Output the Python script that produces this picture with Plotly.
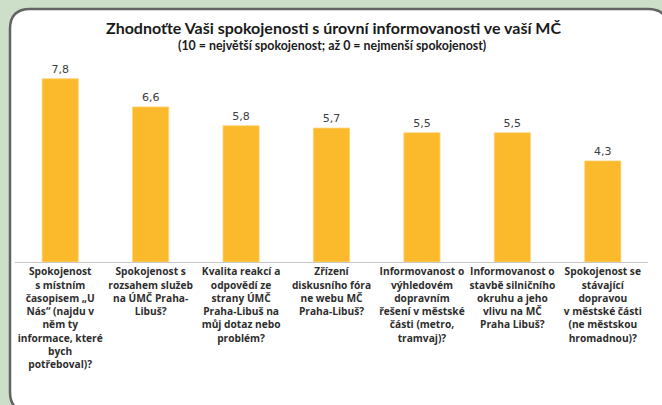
import plotly.graph_objects as go

BG = "#cddfc8"
PANEL = "#ffffff"
BORDER = "#646464"
BAR = "#fbba2b"
TEXT = "#2e2e2e"
LABEL = "#404040"

categories = [
    "Spokojenost<br>s místním<br>časopisem „U<br>Nás“ (najdu v<br>něm ty<br>informace, které<br>bych<br>potřeboval)?",
    "Spokojenost s<br>rozsahem služeb<br>na ÚMČ Praha-<br>Libuš?",
    "Kvalita reakcí a<br>odpovědí ze<br>strany ÚMČ<br>Praha-Libuš na<br>můj dotaz nebo<br>problém?",
    "Zřízení<br>diskusního fóra<br>ne webu MČ<br>Praha-Libuš?",
    "Informovanost o<br>výhledovém<br>dopravním<br>řešení v městské<br>části (metro,<br>tramvaj)?",
    "Informovanost o<br>stavbě silničního<br>okruhu a jeho<br>vlivu na MČ<br>Praha Libuš?",
    "Spokojenost se<br>stávající<br>dopravou<br>v městské části<br>(ne městskou<br>hromadnou)?",
]
values = [7.8, 6.6, 5.8, 5.7, 5.5, 5.5, 4.3]

title = "Zhodnoťte Vaši spokojenosti s úrovní informovanosti ve vaší MČ"
subtitle = "(10 = největší spokojenost; až 0 = nejmenší spokojenost)"

W, H = 662, 405
L, R, T, B = 15, 14, 27, 143
PW, PH = W - L - R, H - T - B


def px(x):
    return (x - L) / PW


def py(y):
    return (H - B - y) / PH


def rounded_panel(x0, y0, x1, y1, r):
    pts = [
        f"M {px(x0 + r)},{py(y0)}",
        f"L {px(x1 - r)},{py(y0)}",
        f"Q {px(x1)},{py(y0)} {px(x1)},{py(y0 + r)}",
        f"L {px(x1)},{py(y1 - r)}",
        f"Q {px(x1)},{py(y1)} {px(x1 - r)},{py(y1)}",
        f"L {px(x0 + r)},{py(y1)}",
        f"Q {px(x0)},{py(y1)} {px(x0)},{py(y1 - r)}",
        f"L {px(x0)},{py(y0 + r)}",
        f"Q {px(x0)},{py(y0)} {px(x0 + r)},{py(y0)}",
        "Z",
    ]
    return " ".join(pts)


fig = go.Figure()
fig.add_trace(go.Bar(
    x=list(range(len(values))), y=values,
    marker=dict(color=BAR, line=dict(color="#fdd37a", width=0.8)),
    texttemplate="%{y:.1f}", textposition="outside",
    textfont=dict(family="DejaVu Sans", size=11, color=LABEL),
    cliponaxis=False,
))

fig.add_shape(type="path", xref="paper", yref="paper", layer="below",
              path=rounded_panel(10, 9, 668, 412, 20),
              fillcolor=PANEL, line=dict(color=BORDER, width=2.5))

fig.add_annotation(text=f"<b>{title}</b>", xref="paper", yref="paper",
                   x=px(333), y=py(27), showarrow=False, yanchor="middle",
                   font=dict(family="Lato", size=16, color="#1a1a1a"))
fig.add_annotation(text=f"<b>{subtitle}</b>", xref="paper", yref="paper",
                   x=px(332), y=py(45), showarrow=False, yanchor="middle",
                   font=dict(family="Lato", size=12.4, color="#1a1a1a"))

fig.update_layout(
    width=W, height=H,
    paper_bgcolor=BG, plot_bgcolor="rgba(0,0,0,0)",
    margin=dict(l=L, r=R, t=T, b=B, autoexpand=False),
    separators=",.",
    bargap=0.6, showlegend=False,
    xaxis=dict(tickmode="array", tickvals=list(range(len(values))),
               ticktext=categories, showline=True, linecolor="#c8c8c8",
               linewidth=1, showgrid=False, zeroline=False, ticks="",
               tickangle=0,
               tickfont=dict(family="Open Sans", size=10.2, color=TEXT, weight="bold"),
               range=[-0.5, len(values) - 0.5]),
    yaxis=dict(range=[0, 10], showgrid=False, zeroline=False,
               showticklabels=False, showline=False),
)

# page body has a default 8px margin; drop it so the figure fills the window
fig.write_html("out.html", config={"displayModeBar": False},
               post_script="document.body.style.margin='0';")
